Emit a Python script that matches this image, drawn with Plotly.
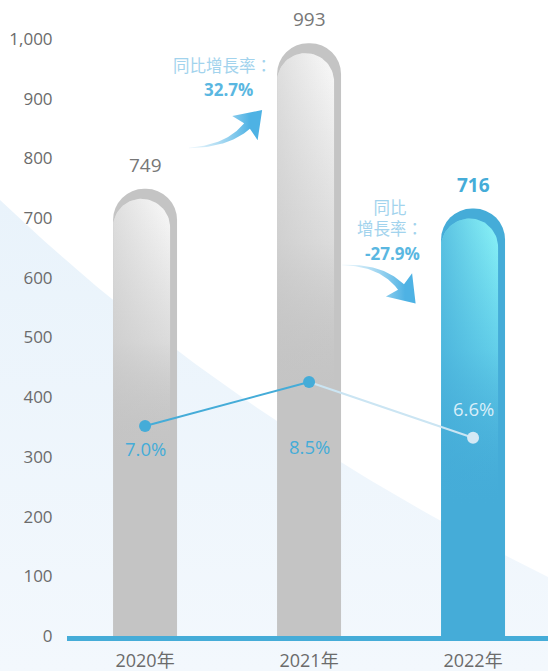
import numpy as np
import plotly.graph_objects as go

# ---- data -------------------------------------------------------------
years = ["2020年", "2021年", "2022年"]
revenue = [749, 993, 716]
ratio = [7.0, 8.5, 6.6]
ratio_labels = ["7.0%", "8.5%", "6.6%"]
growth_labels = ["32.7%", "-27.9%"]
y_ticks = list(range(0, 1001, 100))

# ---- layout geometry --------------------------------------------------
W, H = 548, 671
LEFT, BOTTOM = 67, 35                 # space for tick labels
X_RANGE = [-0.476, 2.457]
Y_RANGE = [0, 1065.3]
R_RANGE = [-0.161, 21.523]
BAR_W = 0.39

PX_X = (W - LEFT) / (X_RANGE[1] - X_RANGE[0])
PX_Y = (H - BOTTOM) / (Y_RANGE[1] - Y_RANGE[0])

GRAY = "#c4c4c4"
BLUE = "#45acd8"
LIGHT = "#cbe5f3"
FONT = "Open Sans, Noto Sans CJK TC, sans-serif"

fig = go.Figure()

# ---- soft diagonal background band (pixel space on the hidden x/y axes) --
t = np.linspace(0, 1, 60)
p0, c0, p2 = np.array([0, 200]), np.array([230, 420]), np.array([W, 577])
edge = ((1 - t) ** 2)[:, None] * p0 + (2 * (1 - t) * t)[:, None] * c0 + (t ** 2)[:, None] * p2
bx = list(edge[:, 0]) + [W, 0]
by = list(edge[:, 1]) + [H, H]
fig.add_trace(go.Scatter(
    x=bx, y=by, mode="lines", fill="toself", line=dict(width=0),
    fillgradient=dict(type="vertical", start=200, stop=H,
                      colorscale=[[0, "#e9f3fb"], [1, "#f3f8fd"]]),
    hoverinfo="skip", xaxis="x", yaxis="y"))


def swoosh(a, c, b, w_end, head_len, head_w, notch, n=40):
    """Tapered curved arrow: quadratic centreline a->b with control c."""
    a, c, b = map(np.array, (a, c, b))
    s = np.linspace(0, 1, n)
    pts = ((1 - s) ** 2)[:, None] * a + (2 * (1 - s) * s)[:, None] * c + (s ** 2)[:, None] * b
    der = (2 * (1 - s))[:, None] * (c - a) + (2 * s)[:, None] * (b - c)
    tan = der / np.linalg.norm(der, axis=1)[:, None]
    nor = np.stack([-tan[:, 1], tan[:, 0]], axis=1)
    w = (0.5 + (w_end - 0.5) * s ** 1.3)[:, None] / 2
    left = pts + nor * w
    right = pts - nor * w
    te, ne = tan[-1], nor[-1]
    tip = b + te * head_len
    bl = b - te * notch + ne * head_w / 2
    br = b - te * notch - ne * head_w / 2
    poly = np.vstack([left, [bl], [tip], [br], right[::-1]])
    return poly[:, 0], poly[:, 1]


arrows = [
    dict(a=(189, 148), c=(228, 146), b=(247, 126), start=189, stop=250),
    dict(a=(342, 265), c=(381, 264.5), b=(401, 287), start=342, stop=405),
]
for ar in arrows:
    ax_, ay_ = swoosh(ar["a"], ar["c"], ar["b"], w_end=8, head_len=22, head_w=35, notch=3)
    fig.add_trace(go.Scatter(
        x=ax_, y=ay_, mode="lines", fill="toself", line=dict(width=0),
        fillgradient=dict(type="horizontal", start=ar["start"], stop=ar["stop"],
                          colorscale=[[0, "rgba(140,205,238,0.15)"],
                                      [1, "rgba(78,178,228,1)"]]),
        hoverinfo="skip", xaxis="x", yaxis="y"))

# ---- bars --------------------------------------------------------------
xs = list(range(len(years)))
bar_colors = [GRAY, GRAY, BLUE]
fig.add_trace(go.Bar(
    x=xs, y=revenue, width=BAR_W,
    marker=dict(color=bar_colors, cornerradius="50%", line=dict(width=0)),
    hoverinfo="skip", xaxis="x2", yaxis="y2"))

# glossy front face on each bar: a narrower capsule, fading downwards
FACE_PX = 57
DROP_PX = 10
for i, v in enumerate(revenue):
    hot = bar_colors[i] == BLUE
    xl = xs[i] - BAR_W / 2
    xr = xl + FACE_PX / PX_X
    rx = (xr - xl) / 2
    ry = (FACE_PX / 2) / PX_Y
    top = v - DROP_PX / PX_Y
    th = np.linspace(np.pi, 0, 40)
    cx = list(xl + rx + rx * np.cos(th))
    cy = list(top - ry + ry * np.sin(th))
    px_ = [xl] + cx + [xr]
    py_ = [0] + cy + [0]
    if hot:
        vscale = [[0, "rgba(69,172,216,0)"], [0.55, "rgba(110,220,240,0.75)"],
                  [1, "rgba(140,245,248,1)"]]
        fade = v * 0.30
        hscale = [[0, "rgba(69,172,216,0.7)"], [1, "rgba(69,172,216,0)"]]
    else:
        vscale = [[0, "rgba(196,196,196,0)"], [0.45, "rgba(230,230,230,0.7)"],
                  [1, "rgba(250,250,250,1)"]]
        fade = v * 0.40
        hscale = [[0, "rgba(196,196,196,0.5)"], [1, "rgba(196,196,196,0)"]]
    fig.add_trace(go.Scatter(
        x=px_, y=py_, mode="lines", fill="toself", line=dict(width=0),
        fillgradient=dict(type="vertical", start=fade, stop=top, colorscale=vscale),
        hoverinfo="skip", xaxis="x2", yaxis="y2"))
    fig.add_trace(go.Scatter(
        x=px_, y=py_, mode="lines", fill="toself", line=dict(width=0),
        fillgradient=dict(type="horizontal", start=xl, stop=xr, colorscale=hscale),
        hoverinfo="skip", xaxis="x2", yaxis="y2"))

# ---- ratio line --------------------------------------------------------
fig.add_trace(go.Scatter(x=xs[:2], y=ratio[:2], mode="lines",
                         line=dict(color=BLUE, width=2),
                         hoverinfo="skip", xaxis="x2", yaxis="y3"))
fig.add_trace(go.Scatter(x=xs[1:], y=ratio[1:], mode="lines",
                         line=dict(color=LIGHT, width=2),
                         hoverinfo="skip", xaxis="x2", yaxis="y3"))
fig.add_trace(go.Scatter(x=xs, y=ratio, mode="markers",
                         marker=dict(size=12, color=[BLUE, BLUE, "#d4e9f5"],
                                     line=dict(width=0)),
                         hoverinfo="skip", xaxis="x2", yaxis="y3"))

# ---- annotations -------------------------------------------------------
ann = []
for i, v in enumerate(revenue):
    hot = bar_colors[i] == BLUE
    ann.append(dict(x=xs[i], y=v, xref="x2", yref="y2", showarrow=False,
                    text=f"<b>{v}</b>" if hot else str(v),
                    yanchor="bottom", yshift=9,
                    font=dict(family=FONT, size=19, color=BLUE if hot else "#777777")))
ratio_colors = [BLUE, BLUE, "#d8eef9"]
ratio_shift = [-23, -65, 29]
for i, r in enumerate(ratio):
    ann.append(dict(x=xs[i], y=r, xref="x2", yref="y3", showarrow=False,
                    text=ratio_labels[i], yshift=ratio_shift[i],
                    font=dict(family=FONT, size=18.5, color=ratio_colors[i])))

ann += [
    dict(x=222, y=65, xref="x", yref="y", showarrow=False, text="同比增長率：",
         font=dict(family=FONT, size=16.5, color="#a2d3ed")),
    dict(x=228, y=89, xref="x", yref="y", showarrow=False,
         text=f"<b>{growth_labels[0]}</b>",
         font=dict(family=FONT, size=17, color="#5ab7e1")),
    dict(x=390, y=218, xref="x", yref="y", showarrow=False, text="同比<br>增長率：",
         align="center", font=dict(family=FONT, size=16.5, color="#a2d3ed")),
    dict(x=392, y=253, xref="x", yref="y", showarrow=False,
         text=f"<b>{growth_labels[1]}</b>",
         font=dict(family=FONT, size=17, color="#5ab7e1")),
]

fig.update_layout(
    width=W, height=H,
    margin=dict(l=0, r=0, t=0, b=0, autoexpand=False),
    paper_bgcolor="white", plot_bgcolor="rgba(0,0,0,0)",
    showlegend=False, barmode="overlay",
    font=dict(family=FONT),
    annotations=ann,
    xaxis=dict(domain=[0, 1], range=[0, W], visible=False, fixedrange=True,
               automargin=False),
    yaxis=dict(domain=[0, 1], range=[H, 0], visible=False, fixedrange=True,
               automargin=False),
    xaxis2=dict(domain=[LEFT / W, 1], range=X_RANGE, anchor="y2", automargin=False,
                tickvals=xs, ticktext=years, showgrid=False, zeroline=False,
                showline=True, linecolor=BLUE, linewidth=5,
                ticks="outside", ticklen=4, tickcolor="rgba(0,0,0,0)",
                tickfont=dict(family=FONT, size=18, color="#6b6b6b")),
    yaxis2=dict(domain=[BOTTOM / H, 1], range=Y_RANGE, anchor="x2", automargin=False,
                tickvals=y_ticks, tickformat=",", showgrid=False, zeroline=False,
                showline=False, ticks="outside", ticklen=10,
                tickcolor="rgba(0,0,0,0)",
                tickfont=dict(family=FONT, size=17, color="#6b6b6b")),
    yaxis3=dict(overlaying="y2", range=R_RANGE, visible=False, anchor="x2"),
)

fig.write_html("out.html")
